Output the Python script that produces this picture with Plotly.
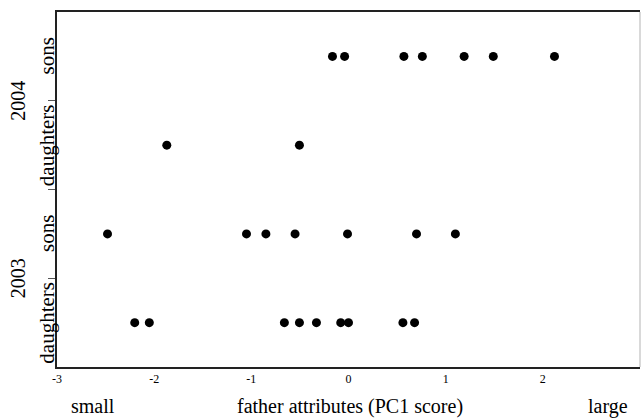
import plotly.graph_objects as go

# Data (PC1 scores)
sons_2004 = [-0.165, -0.04, 0.57, 0.76, 1.19, 1.49, 2.12]
daughters_2004 = [-1.87, -0.505]
sons_2003 = [-2.48, -1.05, -0.85, -0.55, -0.01, 0.70, 1.10]
daughters_2003 = [-2.2, -2.05, -0.66, -0.505, -0.33, -0.08, 0.0, 0.56, 0.68]

group_labels = ["daughters", "sons", "daughters", "sons"]
year_labels = ["2003", "2004"]
x_ticks = [-3, -2, -1, 0, 1, 2, 3]

series = [daughters_2003, sons_2003, daughters_2004, sons_2004]

FONT = "Liberation Serif, Times New Roman, serif"

fig = go.Figure()
for i, vals in enumerate(series):
    fig.add_trace(go.Scatter(
        x=vals, y=[i + 1] * len(vals), mode="markers",
        marker=dict(color="black", size=9),
        showlegend=False, hoverinfo="x", cliponaxis=False))

fig.update_layout(
    width=641, height=419,
    margin=dict(l=57, r=1, t=12, b=52, autoexpand=False),
    paper_bgcolor="white", plot_bgcolor="white",
    font=dict(family=FONT, color="black"),
    xaxis=dict(range=[-3, 3], tickvals=x_ticks, ticktext=[str(v) for v in x_ticks],
               showgrid=False, zeroline=False, showline=True, linecolor="#222",
               linewidth=1.5, mirror=True, ticks="", automargin=False,
               tickfont=dict(family=FONT, size=12, color="black")),
    yaxis=dict(range=[0.5, 4.5], tickvals=[1.5, 2.5, 3.5], ticktext=["", "", ""],
               showgrid=False, zeroline=False, showline=True, linecolor="#222",
               linewidth=1.5, ticks="outside", ticklen=7, tickcolor="#555",
               tickwidth=1, automargin=False),
)

# right edge (light)
fig.add_shape(type="line", xref="paper", yref="paper", x0=1, x1=1, y0=0, y1=1,
              line=dict(color="#cccccc", width=1.5))

# group labels (rotated)
for i, lab in enumerate(group_labels):
    fig.add_annotation(x=0, y=i + 1, xref="paper", yref="y", text=lab,
                       textangle=-90, showarrow=False, xanchor="center",
                       yanchor="middle", xshift=-10,
                       font=dict(family=FONT, size=21, color="black"))
for j, yr in enumerate(year_labels):
    fig.add_annotation(x=0, y=2 * j + 1.5, xref="paper", yref="y", text=yr,
                       textangle=-90, showarrow=False, xanchor="center",
                       yanchor="middle", xshift=-39,
                       font=dict(family=FONT, size=20, color="black"))

# bottom labels
for xv, txt in [(-2.63, "small"), (0.02, "father attributes (PC1 score)"), (2.67, "large")]:
    fig.add_annotation(x=xv, y=0, xref="x", yref="paper", text=txt,
                       showarrow=False, xanchor="center", yanchor="middle",
                       yshift=-39, font=dict(family=FONT, size=20, color="black"))

fig.write_html(
    "out.html",
    config={"displayModeBar": False},
    post_script="document.body.style.margin='0';"
                "document.documentElement.style.overflow='hidden';"
                "document.body.style.overflow='hidden';",
)
